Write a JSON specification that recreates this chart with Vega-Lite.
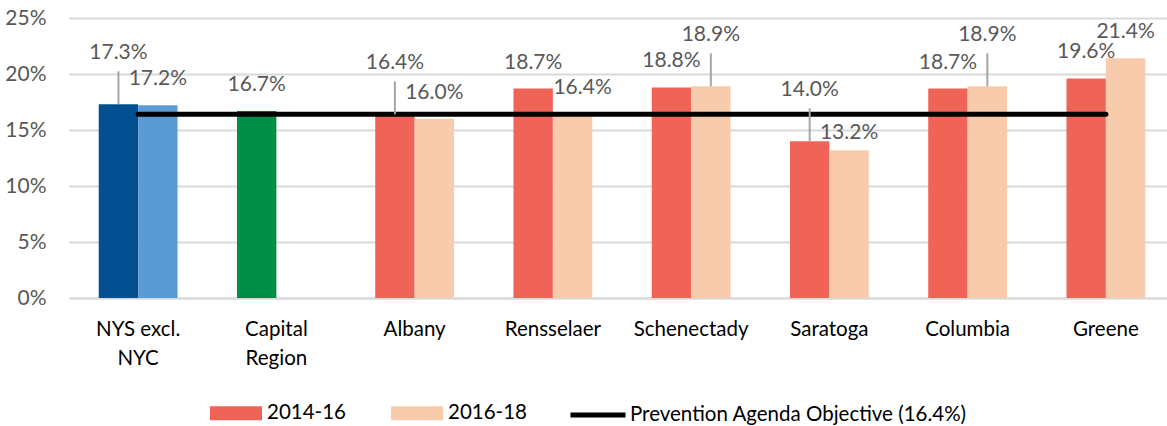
{
  "$schema": "https://vega.github.io/schema/vega-lite/v6.json",
  "width": 1098,
  "height": 280,
  "autosize": {"type": "none"},
  "padding": {"left": 69, "top": 18, "right": 0, "bottom": 128},
  "config": {"view": {"stroke": null}, "font": "Lato"},
  "datasets": {
    "bars": [
      {"region": "NYS excl. NYC", "period": "2014-16", "series": "NYS 2014-16", "value": 0.173},
      {"region": "NYS excl. NYC", "period": "2016-18", "series": "NYS 2016-18", "value": 0.172},
      {"region": "Capital Region", "period": "2014-16", "series": "Capital Region", "value": 0.167},
      {"region": "Albany", "period": "2014-16", "series": "2014-16", "value": 0.164},
      {"region": "Albany", "period": "2016-18", "series": "2016-18", "value": 0.160},
      {"region": "Rensselaer", "period": "2014-16", "series": "2014-16", "value": 0.187},
      {"region": "Rensselaer", "period": "2016-18", "series": "2016-18", "value": 0.164},
      {"region": "Schenectady", "period": "2014-16", "series": "2014-16", "value": 0.188},
      {"region": "Schenectady", "period": "2016-18", "series": "2016-18", "value": 0.189},
      {"region": "Saratoga", "period": "2014-16", "series": "2014-16", "value": 0.140},
      {"region": "Saratoga", "period": "2016-18", "series": "2016-18", "value": 0.132},
      {"region": "Columbia", "period": "2014-16", "series": "2014-16", "value": 0.187},
      {"region": "Columbia", "period": "2016-18", "series": "2016-18", "value": 0.189},
      {"region": "Greene", "period": "2014-16", "series": "2014-16", "value": 0.196},
      {"region": "Greene", "period": "2016-18", "series": "2016-18", "value": 0.214}
    ],
    "objective": [
      {"region": "NYS excl. NYC", "objective": 0.164},
      {"region": "Capital Region", "objective": 0.164},
      {"region": "Albany", "objective": 0.164},
      {"region": "Rensselaer", "objective": 0.164},
      {"region": "Schenectady", "objective": 0.164},
      {"region": "Saratoga", "objective": 0.164},
      {"region": "Columbia", "objective": 0.164},
      {"region": "Greene", "objective": 0.164}
    ]
  },
  "encoding": {
    "x": {
      "field": "region",
      "type": "nominal",
      "sort": null,
      "scale": {"range": [0, 1106], "paddingInner": 0.43, "paddingOuter": 0.215},
      "axis": {
        "title": null,
        "domain": true,
        "domainColor": "#D9D9D9",
        "domainWidth": 2,
        "ticks": false,
        "grid": false,
        "labelAngle": 0,
        "labelFontSize": 20.5,
        "labelColor": "#000000",
        "labelPadding": 21,
        "labelLineHeight": 29,
        "labelExpr": "datum.label == 'NYS excl. NYC' ? ['NYS excl.', 'NYC'] : datum.label == 'Capital Region' ? ['Capital', 'Region'] : datum.label"
      }
    },
    "y": {
      "type": "quantitative",
      "scale": {"domain": [0, 0.25]},
      "axis": {
        "title": null,
        "values": [0, 0.05, 0.1, 0.15, 0.2, 0.25],
        "format": ".0%",
        "domain": false,
        "ticks": false,
        "labelPadding": 23,
        "labelFontSize": 21,
        "labelColor": "#595959",
        "gridColor": "#D9D9D9",
        "gridWidth": 2
      }
    }
  },
  "layer": [
    {
      "data": {"name": "bars"},
      "mark": {"type": "bar"},
      "encoding": {
        "xOffset": {"field": "period", "type": "nominal", "scale": {"domain": ["2014-16", "2016-18"], "paddingInner": 0, "paddingOuter": 0}},
        "y": {"field": "value", "type": "quantitative"},
        "color": {
          "field": "series",
          "type": "nominal",
          "scale": {
            "domain": ["NYS 2014-16", "NYS 2016-18", "Capital Region", "2014-16", "2016-18"],
            "range": ["#02508F", "#5B9BD5", "#008E47", "#F06458", "#F8CBAD"]
          },
          "legend": {
            "orient": "none",
            "legendX": 141,
            "legendY": 369,
            "direction": "horizontal",
            "columns": 2,
            "values": ["2014-16", "2016-18"],
            "title": null,
            "symbolType": "M-1,-0.27H1V0.27H-1Z",
            "symbolSize": 2704,
            "symbolStrokeWidth": 0,
            "symbolOpacity": 1,
            "labelFontSize": 20.5,
            "labelColor": "#000000",
            "labelOffset": 5,
            "labelLimit": 500,
            "columnPadding": 45
          }
        }
      }
    },
    {
      "data": {"name": "objective"},
      "mark": {"type": "line", "strokeWidth": 5, "strokeCap": "round"},
      "encoding": {
        "y": {"field": "objective", "type": "quantitative"},
        "stroke": {
          "datum": "Prevention Agenda Objective (16.4%)",
          "type": "nominal",
          "scale": {"range": ["#000000"]},
          "legend": {
            "orient": "none",
            "legendX": 499,
            "legendY": 367,
            "title": null,
            "symbolType": "stroke",
            "symbolSize": 3025,
            "symbolStrokeWidth": 5,
            "labelFontSize": 20.5,
            "labelColor": "#000000",
            "labelOffset": 2,
            "labelLimit": 500
          }
        }
      }
    },
    {
      "data": {"name": "bars"},
      "transform": [{"filter": "indexof(['NYS excl. NYC|2014-16','Albany|2014-16','Schenectady|2016-18','Saratoga|2014-16','Columbia|2016-18'], datum.region + '|' + datum.period) >= 0"}],
      "mark": {"type": "rule", "color": "#A6A6A6", "strokeWidth": 2, "y2Offset": -33},
      "encoding": {
        "xOffset": {"field": "period", "type": "nominal"},
        "y": {"field": "value", "type": "quantitative"},
        "y2": {"field": "value"}
      }
    },
    {
      "data": {"name": "bars"},
      "transform": [{"filter": "indexof(['NYS excl. NYC|2014-16','Albany|2014-16','Schenectady|2016-18','Saratoga|2014-16','Columbia|2016-18','Rensselaer|2016-18','Saratoga|2016-18'], datum.region + '|' + datum.period) < 0"}],
      "mark": {"type": "text", "dy": -26, "baseline": "middle", "fontSize": 21, "color": "#595959"},
      "encoding": {
        "xOffset": {"field": "period", "type": "nominal"},
        "y": {"field": "value", "type": "quantitative"},
        "text": {"field": "value", "type": "quantitative", "format": ".1%"}
      }
    },
    {
      "data": {"name": "bars"},
      "transform": [{"filter": "indexof(['NYS excl. NYC|2014-16','Albany|2014-16','Schenectady|2016-18','Saratoga|2014-16','Columbia|2016-18'], datum.region + '|' + datum.period) >= 0"}],
      "mark": {"type": "text", "dy": -51, "baseline": "middle", "fontSize": 21, "color": "#595959"},
      "encoding": {
        "xOffset": {"field": "period", "type": "nominal"},
        "y": {"field": "value", "type": "quantitative"},
        "text": {"field": "value", "type": "quantitative", "format": ".1%"}
      }
    },
    {
      "data": {"name": "bars"},
      "transform": [{"filter": "datum.region + '|' + datum.period == 'Rensselaer|2016-18'"}],
      "mark": {"type": "text", "dy": -26, "dx": 10, "baseline": "middle", "fontSize": 21, "color": "#595959"},
      "encoding": {
        "xOffset": {"field": "period", "type": "nominal"},
        "y": {"field": "value", "type": "quantitative"},
        "text": {"field": "value", "type": "quantitative", "format": ".1%"}
      }
    },
    {
      "data": {"name": "bars"},
      "transform": [{"filter": "datum.region + '|' + datum.period == 'Saratoga|2016-18'"}],
      "mark": {"type": "text", "dy": -17, "baseline": "middle", "fontSize": 21, "color": "#595959"},
      "encoding": {
        "xOffset": {"field": "period", "type": "nominal"},
        "y": {"field": "value", "type": "quantitative"},
        "text": {"field": "value", "type": "quantitative", "format": ".1%"}
      }
    }
  ]
}
